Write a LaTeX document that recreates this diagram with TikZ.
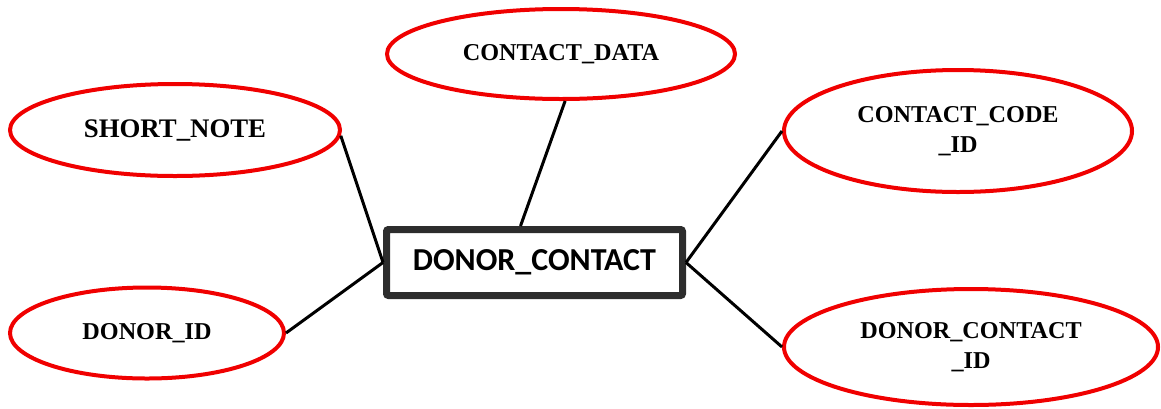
\documentclass[tikz,border=0pt]{standalone}
\usepackage{fontspec}
\setmainfont{Liberation Serif}
\newfontfamily\boxfont{Carlito}
\usetikzlibrary{shapes.geometric, positioning}
\definecolor{attrred}{RGB}{240,0,0}
\definecolor{boxgray}{RGB}{45,45,45}
\tikzstyle{attr} = [ellipse, draw=attrred, line width=2pt, inner sep=0pt, align=center, font=\fontsize{12.1}{15}\selectfont\bfseries]
\tikzstyle{entity} = [rectangle, draw=boxgray, line width=3.5pt, rounded corners=1pt, minimum width=148pt, minimum height=33pt, font=\boxfont\fontsize{16}{18}\selectfont\bfseries]
\tikzstyle{link} = [draw=black, line width=1.5pt]

\begin{document}
\begin{tikzpicture}[x=0.5pt, y=-0.5pt]
\useasboundingbox (0,0) rectangle (1161,408);
\node (dc) [entity] at (534.5,262.5) {DONOR\_CONTACT};
\node (sn) [attr, minimum width=165pt, minimum height=46pt, font=\fontsize{13.4}{15}\selectfont\bfseries] at (175,130) {SHORT\_NOTE};
\node (cd) [attr, minimum width=174pt, minimum height=45pt] at (561,54) {CONTACT\_DATA};
\node (cc) [attr, minimum width=174pt, minimum height=61pt] at (958,131) {CONTACT\_CODE\\\_ID};
\node (di) [attr, minimum width=137pt, minimum height=45.5pt] at (147,333) {DONOR\_ID};
\node (dci) [attr, minimum width=187pt, minimum height=58pt] at (971,347) {DONOR\_CONTACT\\\_ID};
\draw [link] (sn.-2.5) -- (dc.west);
\draw [link] (di.east) -- (dc.west);
\draw [link] (cd.-85) -- (dc.111);
\draw [link] (cc.west) -- (dc.east);
\draw [link] (dci.west) -- (dc.east);
\end{tikzpicture}
\end{document}
